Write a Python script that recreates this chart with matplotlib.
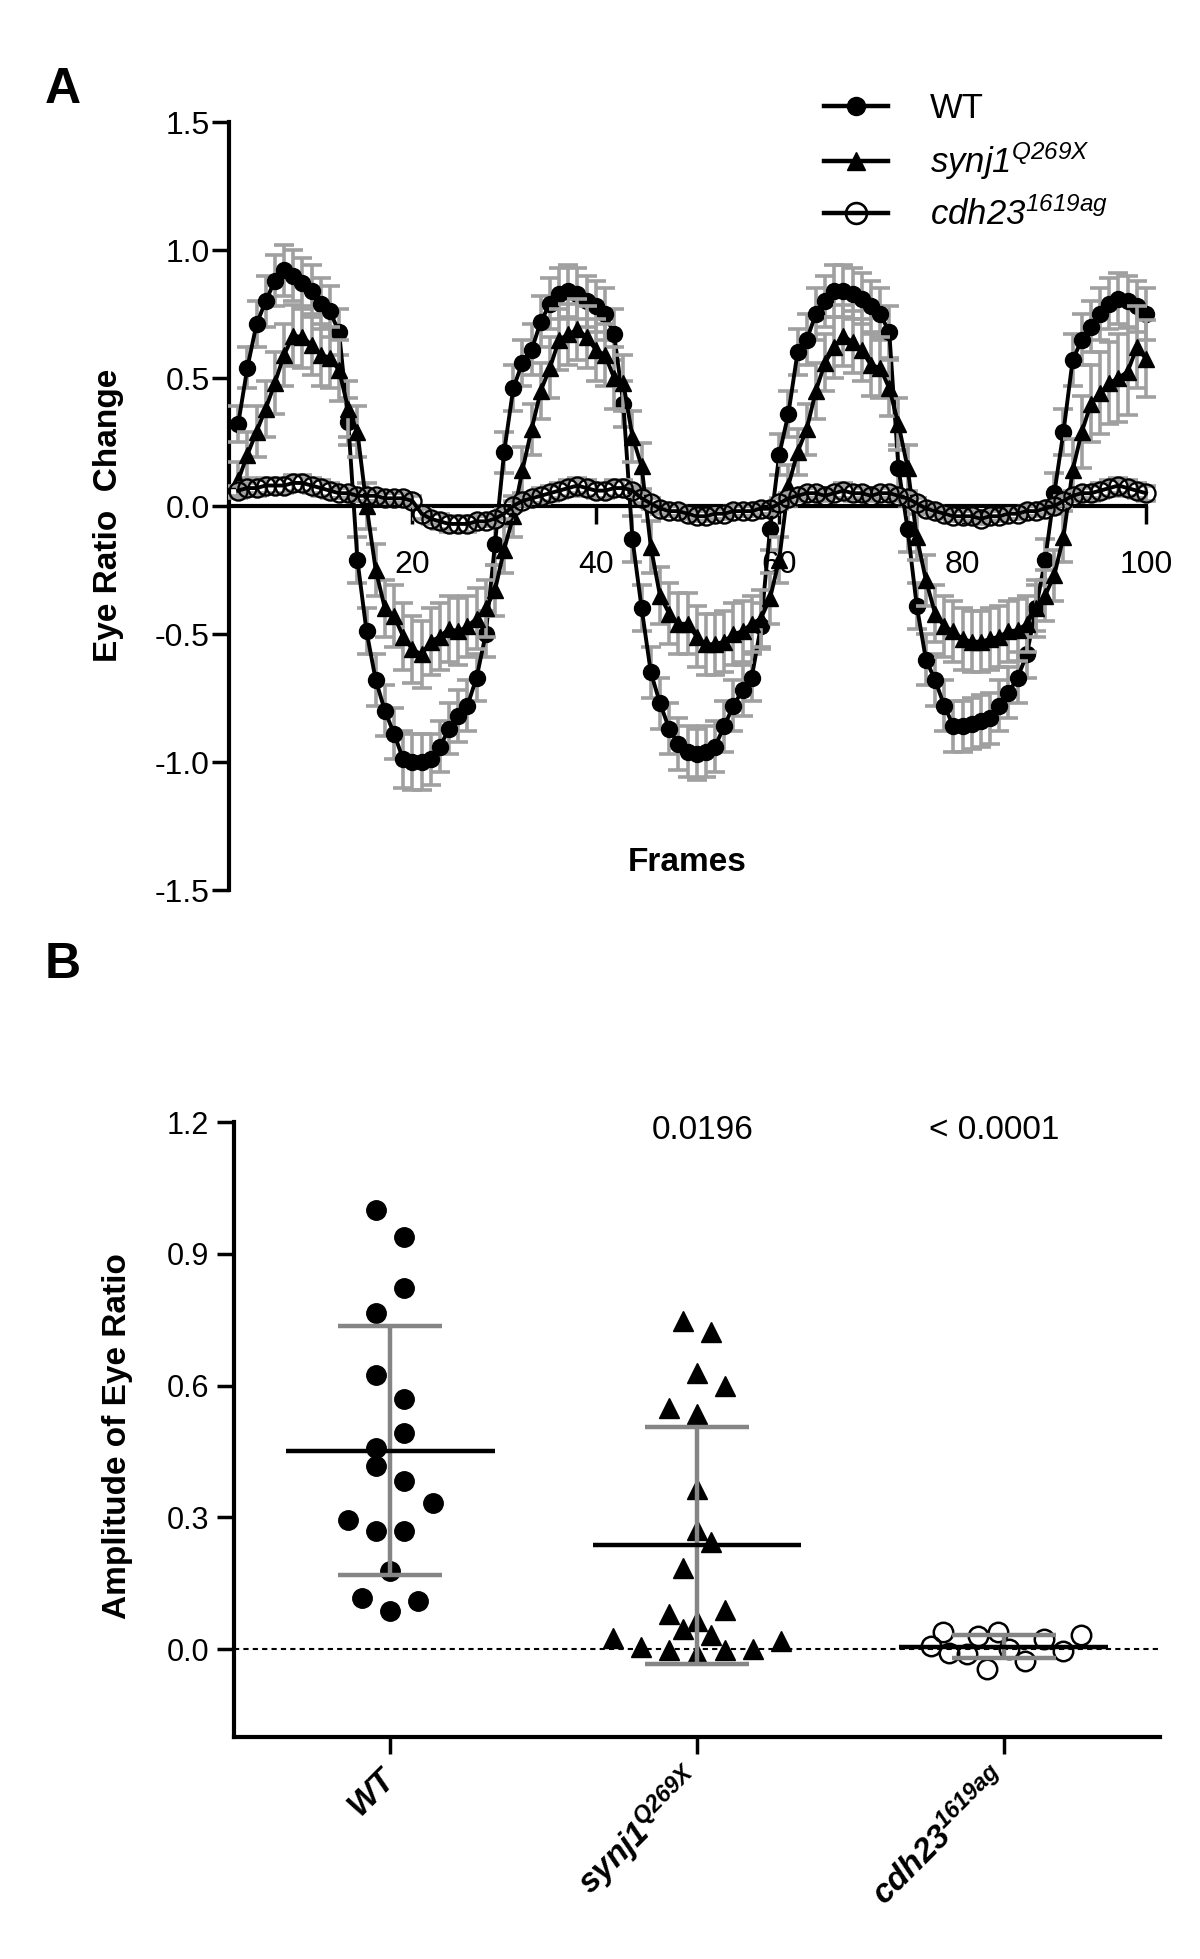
import numpy as np
import matplotlib.pyplot as plt
from matplotlib.lines import Line2D

plt.rcParams['font.family'] = ['Liberation Sans', 'DejaVu Sans']
plt.rcParams['axes.unicode_minus'] = False
# every math string in this figure is a gene name: italic throughout (digits too)
plt.rcParams['mathtext.fontset'] = 'custom'
plt.rcParams['mathtext.rm'] = 'Liberation Sans:italic'
plt.rcParams['mathtext.it'] = 'Liberation Sans:italic'
plt.rcParams['mathtext.bf'] = 'Liberation Sans:italic:bold'

# ---- Panel A : eye ratio change per frame (mean, SEM) ----
wt_mean = [0.32, 0.54, 0.71, 0.80, 0.88, 0.92, 0.90, 0.87, 0.84, 0.79,
           0.76, 0.68, 0.33, -0.21, -0.49, -0.68, -0.80, -0.89, -0.99, -1.00,
           -1.00, -0.99, -0.94, -0.87, -0.82, -0.78, -0.67, -0.50, -0.15, 0.21,
           0.46, 0.56, 0.61, 0.72, 0.79, 0.83, 0.84, 0.83, 0.80, 0.78,
           0.75, 0.67, 0.40, -0.13, -0.40, -0.65, -0.77, -0.87, -0.93, -0.96,
           -0.97, -0.96, -0.94, -0.86, -0.78, -0.72, -0.67, -0.47, -0.09, 0.20,
           0.36, 0.60, 0.65, 0.75, 0.80, 0.84, 0.84, 0.83, 0.81, 0.78,
           0.75, 0.68, 0.15, -0.09, -0.39, -0.60, -0.68, -0.78, -0.86, -0.86,
           -0.85, -0.84, -0.83, -0.78, -0.73, -0.67, -0.58, -0.40, -0.21, 0.05,
           0.29, 0.57, 0.65, 0.70, 0.75, 0.79, 0.81, 0.80, 0.78, 0.75]
wt_sem = [0.07, 0.08, 0.09, 0.10, 0.10, 0.10, 0.10, 0.10, 0.10, 0.10,
          0.10, 0.09, 0.09, 0.09, 0.09, 0.10, 0.10, 0.10, 0.11, 0.11,
          0.11, 0.10, 0.10, 0.10, 0.10, 0.10, 0.09, 0.09, 0.08, 0.08,
          0.09, 0.09, 0.10, 0.10, 0.10, 0.10, 0.10, 0.10, 0.10, 0.10,
          0.10, 0.10, 0.09, 0.09, 0.09, 0.10, 0.10, 0.10, 0.10, 0.10,
          0.10, 0.10, 0.10, 0.10, 0.10, 0.10, 0.09, 0.09, 0.08, 0.08,
          0.09, 0.09, 0.10, 0.10, 0.10, 0.10, 0.10, 0.10, 0.10, 0.10,
          0.10, 0.10, 0.09, 0.09, 0.09, 0.10, 0.10, 0.10, 0.10, 0.10,
          0.10, 0.10, 0.10, 0.10, 0.10, 0.10, 0.09, 0.09, 0.08, 0.08,
          0.09, 0.10, 0.10, 0.10, 0.10, 0.10, 0.10, 0.10, 0.10, 0.10]

synj1_mean = [0.10, 0.20, 0.29, 0.38, 0.48, 0.59, 0.665, 0.66, 0.63, 0.59,
              0.58, 0.53, 0.38, 0.29, 0.00, -0.25, -0.40, -0.43, -0.51, -0.56,
              -0.58, -0.53, -0.51, -0.48, -0.49, -0.47, -0.44, -0.40, -0.33, -0.17,
              -0.04, 0.14, 0.30, 0.45, 0.54, 0.65, 0.67, 0.69, 0.66, 0.61,
              0.59, 0.50, 0.48, 0.27, 0.155, -0.16, -0.35, -0.42, -0.46, -0.46,
              -0.51, -0.54, -0.54, -0.53, -0.50, -0.49, -0.46, -0.44, -0.36, -0.21,
              0.08, 0.21, 0.30, 0.45, 0.56, 0.62, 0.665, 0.64, 0.61, 0.55,
              0.54, 0.46, 0.32, 0.15, -0.12, -0.29, -0.42, -0.47, -0.49, -0.52,
              -0.53, -0.53, -0.52, -0.51, -0.49, -0.485, -0.46, -0.40, -0.35, -0.27,
              -0.12, 0.14, 0.29, 0.40, 0.44, 0.48, 0.50, 0.525, 0.62, 0.575]
synj1_sem = [0.07, 0.09, 0.10, 0.11, 0.12, 0.12, 0.12, 0.12, 0.12, 0.12,
             0.12, 0.12, 0.11, 0.10, 0.09, 0.10, 0.11, 0.12, 0.13, 0.13,
             0.13, 0.13, 0.13, 0.13, 0.13, 0.12, 0.12, 0.11, 0.10, 0.09,
             0.08, 0.09, 0.10, 0.11, 0.12, 0.12, 0.12, 0.12, 0.12, 0.12,
             0.12, 0.12, 0.11, 0.10, 0.09, 0.10, 0.11, 0.12, 0.12, 0.12,
             0.12, 0.12, 0.12, 0.12, 0.12, 0.12, 0.11, 0.11, 0.10, 0.09,
             0.08, 0.09, 0.10, 0.11, 0.11, 0.12, 0.12, 0.12, 0.12, 0.12,
             0.12, 0.11, 0.10, 0.09, 0.09, 0.10, 0.11, 0.12, 0.12, 0.12,
             0.12, 0.12, 0.12, 0.12, 0.12, 0.12, 0.11, 0.11, 0.10, 0.10,
             0.10, 0.12, 0.14, 0.15, 0.16, 0.16, 0.17, 0.17, 0.16, 0.15]

cdh23_mean = [0.06, 0.07, 0.07, 0.08, 0.08, 0.08, 0.09, 0.09, 0.08, 0.07,
              0.06, 0.05, 0.05, 0.04, 0.04, 0.04, 0.03, 0.03, 0.03, 0.02,
              -0.03, -0.05, -0.06, -0.07, -0.07, -0.07, -0.06, -0.06, -0.05, -0.03,
              0.00, 0.02, 0.03, 0.04, 0.05, 0.06, 0.07, 0.08, 0.07, 0.06,
              0.06, 0.07, 0.07, 0.06, 0.03, 0.01, -0.01, -0.02, -0.02, -0.03,
              -0.04, -0.04, -0.03, -0.03, -0.02, -0.02, -0.02, -0.01, -0.01, 0.01,
              0.03, 0.04, 0.05, 0.05, 0.04, 0.05, 0.06, 0.05, 0.05, 0.04,
              0.05, 0.05, 0.04, 0.03, 0.01, -0.01, -0.02, -0.03, -0.04, -0.04,
              -0.04, -0.05, -0.04, -0.04, -0.03, -0.03, -0.02, -0.02, -0.01, 0.00,
              0.02, 0.04, 0.05, 0.05, 0.06, 0.07, 0.08, 0.07, 0.06, 0.05]
cdh23_sem = [0.02, 0.02, 0.03, 0.03, 0.03, 0.03, 0.03, 0.03, 0.03, 0.03,
             0.03, 0.02, 0.02, 0.02, 0.02, 0.02, 0.02, 0.02, 0.02, 0.02,
             0.02, 0.02, 0.03, 0.03, 0.03, 0.03, 0.02, 0.02, 0.02, 0.02,
             0.02, 0.02, 0.02, 0.03, 0.03, 0.03, 0.03, 0.03, 0.03, 0.03,
             0.03, 0.03, 0.03, 0.02, 0.02, 0.02, 0.02, 0.02, 0.02, 0.02,
             0.02, 0.02, 0.02, 0.02, 0.02, 0.02, 0.02, 0.02, 0.02, 0.02,
             0.02, 0.02, 0.02, 0.02, 0.02, 0.02, 0.03, 0.03, 0.02, 0.02,
             0.02, 0.02, 0.02, 0.02, 0.02, 0.02, 0.02, 0.02, 0.02, 0.02,
             0.02, 0.02, 0.02, 0.02, 0.02, 0.02, 0.02, 0.02, 0.02, 0.02,
             0.02, 0.02, 0.02, 0.03, 0.03, 0.03, 0.03, 0.03, 0.03, 0.03]

frames = np.arange(1, len(wt_mean) + 1)

# ---- Panel B : amplitude of eye ratio per fish ----
wt_amp = [1.00, 0.938, 0.823, 0.765, 0.625, 0.570, 0.491, 0.457, 0.418,
          0.383, 0.333, 0.294, 0.270, 0.270, 0.178, 0.116, 0.110, 0.087]
synj1_amp = [0.747, 0.721, 0.629, 0.599, 0.549, 0.535, 0.365, 0.272, 0.243,
             0.184, 0.080, 0.090, 0.065, 0.046, 0.033, 0.026, 0.018, 0.005,
             -0.002, -0.011, -0.002, 0.000]
cdh23_amp = [0.038, 0.008, -0.009, 0.029, 0.038, -0.045, -0.027, 0.023,
             -0.004, 0.032, -0.012, 0.000]
# column-scatter slot of each point (side-by-side placement)
wt_slot = [-1, 1, 1, -1, -1, 1, 1, -1, -1, 1, 3, -3, -1, 1, 0, -2, 2, 0]
synj1_slot = [-1, 1, 0, 2, -2, 0, 0, 0, 1, -1, -2, 2, 0, -1, 1, -6, 6, -4,
              -2, 0, 2, 4]
cdh23_slot = [-4.3, -5.2, -3.9, -1.8, -0.4, -1.2, 1.5, 2.9, 4.2, 5.5, -2.6, 0.4]
group_labels = ['WT', r'$\mathbf{synj1}^{\mathbf{Q269X}}$',
                r'$\mathbf{cdh23}^{\mathbf{1619ag}}$']
p_values = ['0.0196', '< 0.0001']

W, H = 1200, 1959
fig = plt.figure(figsize=(W / 100, H / 100), dpi=100)


def box(l, t, r, b):
    return [l / W, 1 - b / H, (r - l) / W, (b - t) / H]


# =================== Panel A ===================
axA = fig.add_axes(box(229, 122, 1146, 890))
ebar_kw = dict(fmt='none', ecolor='#a0a0a0', elinewidth=2.6, capsize=7, capthick=2.6)

axA.errorbar(frames, wt_mean, yerr=wt_sem, zorder=3, clip_on=False, **ebar_kw)
axA.plot(frames, wt_mean, '-o', color='black', lw=2.8, ms=11.5, zorder=4, clip_on=False)
axA.errorbar(frames, synj1_mean, yerr=synj1_sem, zorder=5, clip_on=False, **ebar_kw)
axA.plot(frames, synj1_mean, '-^', color='black', lw=2.8, ms=11.5, zorder=6, clip_on=False)
axA.errorbar(frames, cdh23_mean, yerr=cdh23_sem, zorder=7, clip_on=False, **ebar_kw)
axA.plot(frames, cdh23_mean, '-o', color='black', lw=2.8, ms=13, mfc='none',
         mew=1.7, zorder=8, clip_on=False)

axA.set_xlim(0, 100)
axA.set_ylim(-1.5, 1.5)
axA.spines['top'].set_visible(False)
axA.spines['right'].set_visible(False)
axA.spines['bottom'].set_position(('data', 0))
for s in ['left', 'bottom']:
    axA.spines[s].set_linewidth(3)
axA.set_xticks([20, 40, 60, 80, 100])
axA.set_yticks([-1.5, -1.0, -0.5, 0.0, 0.5, 1.0, 1.5])
axA.set_yticklabels(['-1.5', '-1.0', '-0.5', '0.0', '0.5', '1.0', '1.5'])
axA.tick_params(axis='x', length=13, width=2.5, pad=19, labelsize=23)
axA.tick_params(axis='y', length=12, width=2.5, pad=2, labelsize=23)
axA.set_ylabel('Eye Ratio  Change', fontsize=24, fontweight='bold')
axA.yaxis.set_label_coords(-0.1145, 0.488)
axA.text(0.5, 0.036, 'Frames', transform=axA.transAxes, ha='center', va='center',
         fontsize=24, fontweight='bold')

handles = [
    Line2D([], [], color='black', lw=3.2, marker='o', ms=13),
    Line2D([], [], color='black', lw=3.2, marker='^', ms=13),
    Line2D([], [], color='black', lw=3.2, marker='o', ms=15, mfc='none', mew=1.9),
]
labels = ['WT', r'$\mathrm{synj1}^{\mathrm{Q269X}}$', r'$\mathrm{cdh23}^{\mathrm{1619ag}}$']
fig.legend(handles, labels, loc='upper left', bbox_to_anchor=(824 / W, 1 - 92 / H),
           frameon=False, fontsize=25, handlelength=1.85, handletextpad=1.2,
           labelspacing=0.45, borderpad=0, borderaxespad=0)

# =================== Panel B ===================
axB = fig.add_axes(box(234, 1122, 1160, 1737))
step = 0.0458
amps = [wt_amp, synj1_amp, cdh23_amp]
slots = [wt_slot, synj1_slot, cdh23_slot]
mk = [dict(marker='o', ms=14, color='black', ls='none'),
      dict(marker='^', ms=14, color='black', ls='none'),
      dict(marker='o', ms=14, mfc='none', mec='black', mew=1.8, ls='none')]

axB.axhline(0, color='black', lw=1.5, dashes=(2.5, 2), zorder=1)
for i, (vals, sl) in enumerate(zip(amps, slots)):
    vals = np.array(vals)
    xs = i + step * np.array(sl)
    axB.plot(xs, vals, zorder=3, **mk[i])
    m = vals.mean()
    sd = vals.std(ddof=1)
    axB.errorbar(i, m, yerr=sd, fmt='none', ecolor='#858585', elinewidth=3.2,
                 capsize=37.5, capthick=3.2, zorder=4)
    axB.hlines(m, i - 0.34, i + 0.34, color='black', lw=3.2, zorder=5)

for x, p in zip([1.02, 1.97], p_values):
    axB.text(x, 1.18, p, ha='center', va='center', fontsize=24)

axB.set_xlim(-0.51, 2.51)
axB.set_ylim(-0.2, 1.2)
axB.spines['top'].set_visible(False)
axB.spines['right'].set_visible(False)
for s in ['left', 'bottom']:
    axB.spines[s].set_linewidth(3)
axB.set_yticks([0.0, 0.3, 0.6, 0.9, 1.2])
axB.set_yticklabels(['0.0', '0.3', '0.6', '0.9', '1.2'])
axB.set_xticks([0, 1, 2])
axB.set_xticklabels(group_labels, rotation=45, ha='right', va='center',
                    rotation_mode='anchor', fontsize=24, fontweight='bold',
                    fontstyle='italic')
axB.tick_params(axis='x', length=12, width=2.5, pad=15)
axB.tick_params(axis='y', length=12, width=2.5, pad=6, labelsize=22)
axB.set_ylabel('Amplitude of Eye Ratio', fontsize=24, fontweight='bold')
axB.yaxis.set_label_coords(-0.109, 0.489)

fig.text(45 / W, 1 - 103 / H, 'A', fontsize=36, fontweight='bold', va='baseline')
fig.text(45 / W, 1 - 978 / H, 'B', fontsize=36, fontweight='bold', va='baseline')

fig.savefig('out.png', dpi=100)
